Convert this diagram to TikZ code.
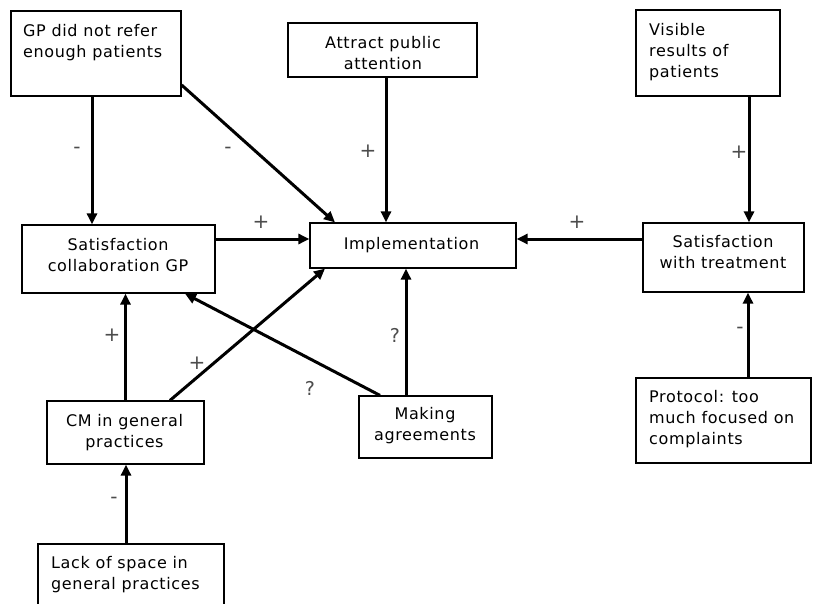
\documentclass[tikz,border=0pt]{standalone}
\usepackage{fontspec}
\setmainfont[LetterSpace=4]{DejaVu Sans}
\usetikzlibrary{arrows.meta,calc}
\begin{document}
\begin{tikzpicture}[x=1pt,y=-1pt,
  box/.style={draw,line width=1.2pt,rectangle,inner sep=0pt},
  txt/.style={inner sep=0pt,font=\fontsize{16}{21}\selectfont},
  arr/.style={line width=3pt,-{Triangle[length=11pt,width=10pt]}},
  sgn/.style={inner sep=0pt,font=\fontsize{20}{22}\selectfont,text=black!70},
  qst/.style={inner sep=0pt,font=\fontsize{19}{21}\selectfont,text=black!70}]
\useasboundingbox (0,0) rectangle (813,604);
% boxes
\node[box,minimum width=170pt,minimum height=85pt] (gp) at (96,53.5) {};
\node[box,minimum width=189pt,minimum height=54pt] (attract) at (382.5,50) {};
\node[box,minimum width=144pt,minimum height=86pt] (visible) at (708,53) {};
\node[box,minimum width=193pt,minimum height=68pt] (satgp) at (118.5,259) {};
\node[box,minimum width=206pt,minimum height=45pt] (impl) at (413,245.5) {};
\node[box,minimum width=161pt,minimum height=69pt] (satt) at (723.5,257.5) {};
\node[box,minimum width=157pt,minimum height=63pt] (cm) at (125.5,432.5) {};
\node[box,minimum width=133pt,minimum height=62pt] (mak) at (425.5,427) {};
\node[box,minimum width=175pt,minimum height=85pt] (prot) at (723.5,420.5) {};
\node[box,minimum width=186pt,minimum height=82pt] (lack) at (131,585) {};
% texts
\node[txt,anchor=north west,align=left] (gpt) at (23,23.8) {GP did not refer\\enough patients};
\node[txt,anchor=north,align=center] (attt) at (383,35.8) {Attract public\\attention};
\node[txt,anchor=north west,align=left] (vist) at (649,22.8) {Visible\\results of\\patients};
\node[txt,anchor=north,align=center] (satgpt) at (118,237.8) {Satisfaction\\collaboration GP};
\node[txt,anchor=north,align=center] (implt) at (411.5,236.8) {Implementation};
\node[txt,anchor=north,align=center] (sattt) at (723,234.8) {Satisfaction\\with treatment};
\node[txt,anchor=north,align=center] (cmt) at (124.5,413.8) {CM in general\\practices};
\node[txt,anchor=north,align=center] (makt) at (425,406.8) {Making\\agreements};
\node[txt,anchor=north west,align=left] (prott) at (649,389.8) {Protocol: too\\much focused on\\complaints};
\node[txt,anchor=north west,align=left] (lackt) at (51,555.8) {Lack of space in\\general practices};
% connectors
\draw[arr] ([xshift=-4pt]gp.south) -- ([xshift=-4pt]gp.south |- satgp.north);
\draw[arr] ([yshift=-31.5pt]gp.east) -- ([xshift=-78pt]impl.north);
\draw[arr] ([xshift=3.5pt]attract.south) -- ([xshift=3.5pt]attract.south |- impl.north);
\draw[arr] ([yshift=20pt]satgp.east) -- ([yshift=20pt]satgp.east -| impl.west);
\draw[arr] ([yshift=18.5pt]satt.west) -- ([yshift=18.5pt]satt.west -| impl.east);
\draw[arr] ([xshift=41pt]visible.south) -- ([xshift=41pt]visible.south |- satt.north);
\draw[arr] ([xshift=24.5pt]prot.north) -- ([xshift=24.5pt]prot.north |- satt.south);
\draw[arr] ([xshift=-19.5pt]mak.north) -- ([xshift=-19.5pt]mak.north |- impl.south);
\draw[arr] ([xshift=-45.5pt]mak.north) -- ([xshift=66.5pt]satgp.south);
\draw[arr] (cm.north) -- (cm.north |- satgp.south);
\draw[arr] ([xshift=44.5pt]cm.north) -- ([xshift=-88pt]impl.south);
\draw[arr] ([xshift=-5pt]lack.north) -- ([xshift=-5pt]lack.north |- cm.south);
% signs
\node[sgn] (s1) at (77,150) {-};
\node[sgn] (s2) at (228,150) {-};
\node[sgn] (s3) at (368,151) {+};
\node[sgn] (s4) at (261,222) {+};
\node[sgn] (s5) at (577,222) {+};
\node[sgn] (s6) at (739,152) {+};
\node[sgn] (s7) at (740,330) {-};
\node[sgn] (s8) at (112,335) {+};
\node[sgn] (s9) at (197,363) {+};
\node[qst] (s10) at (310,388) {?};
\node[qst] (s11) at (395,335) {?};
\node[sgn] (s12) at (114,500) {-};
\end{tikzpicture}
\end{document}
